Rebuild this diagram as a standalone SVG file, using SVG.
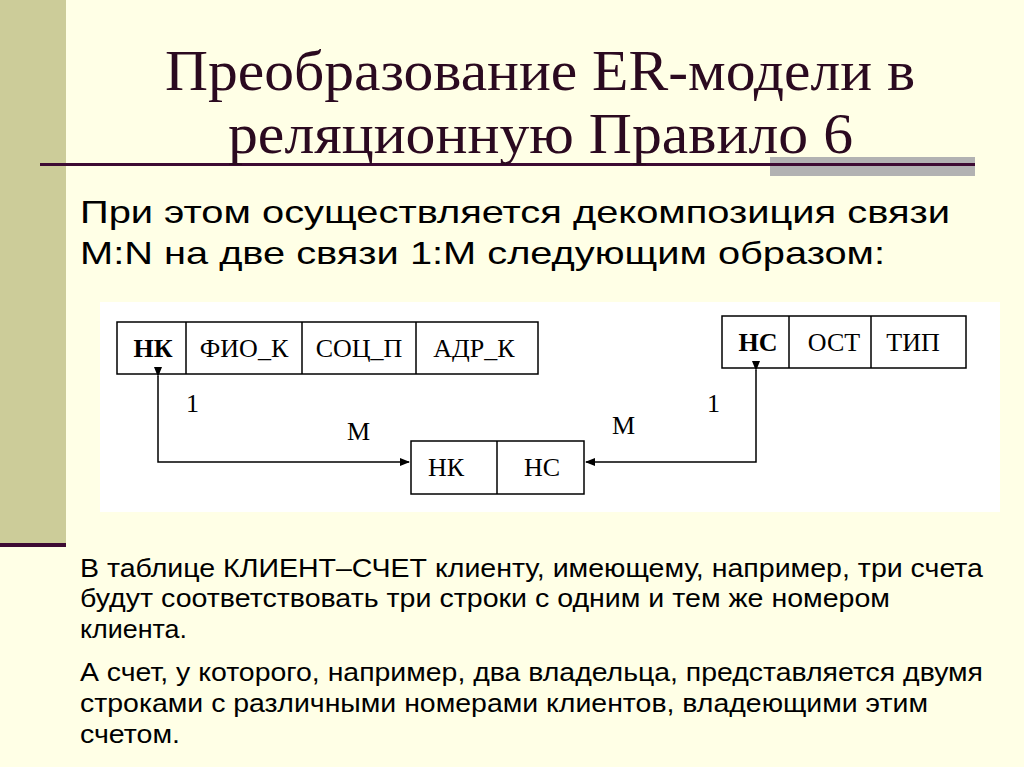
<svg xmlns="http://www.w3.org/2000/svg" width="1024" height="767" viewBox="0 0 1024 767">
<defs>
<style>
.t{font-family:"Liberation Serif",serif;fill:#2b0a20;font-size:56px}
.b{font-family:"Liberation Sans",Arial,sans-serif;fill:#000}
.d{font-family:"Liberation Serif",serif;fill:#000;font-size:26px}
.box{fill:#fff;stroke:#000;stroke-width:1.5}
.ln{fill:none;stroke:#000;stroke-width:1.5}
</style>
<marker id="a" markerWidth="10" markerHeight="8" refX="9" refY="4" orient="auto" markerUnits="userSpaceOnUse"><path d="M0,0L10,4L0,8z" fill="#000"/></marker>
</defs>
<rect width="1024" height="767" fill="#ffffe6"/>
<rect x="0" y="0" width="66" height="543" fill="#cccc99"/>
<rect x="0" y="543" width="66" height="4" fill="#3d0a33"/>
<rect x="770" y="157" width="205" height="19" fill="#b2b2b2"/>
<rect x="40" y="163" width="935" height="3" fill="#3d0a33"/>
<text class="t" x="165" y="90" textLength="750" lengthAdjust="spacingAndGlyphs">Преобразование ER-модели в</text>
<text class="t" x="228" y="153" textLength="625" lengthAdjust="spacingAndGlyphs">реляционную Правило 6</text>
<text class="b" x="80" y="223" font-size="32" textLength="870" lengthAdjust="spacingAndGlyphs">При этом осуществляется декомпозиция связи</text>
<text class="b" x="80" y="264" font-size="32" textLength="805" lengthAdjust="spacingAndGlyphs">M:N на две связи 1:M следующим образом:</text>
<rect x="100" y="302" width="900" height="210" fill="#fff"/>
<g id="client">
<rect class="box" x="117" y="322" width="421" height="52"/>
<path class="ln" d="M186,322V374M302,322V374M416,322V374"/>
<text class="d" x="153" y="357" text-anchor="middle" font-weight="bold">НК</text>
<text class="d" x="244" y="357" text-anchor="middle">ФИО_К</text>
<text class="d" x="359" y="357" text-anchor="middle">СОЦ_П</text>
<text class="d" x="474" y="357" text-anchor="middle">АДР_К</text>
</g>
<g id="account">
<rect class="box" x="722" y="316" width="244" height="52"/>
<path class="ln" d="M789,316V368M871,316V368"/>
<text class="d" x="758" y="351" text-anchor="middle" font-weight="bold">НС</text>
<text class="d" x="834" y="351" text-anchor="middle">ОСТ</text>
<text class="d" x="913" y="351" text-anchor="middle">ТИП</text>
</g>
<g id="link">
<rect class="box" x="411" y="441" width="173" height="53"/>
<path class="ln" d="M497,441V494"/>
<text class="d" x="446" y="476" text-anchor="middle">НК</text>
<text class="d" x="542" y="476" text-anchor="middle">НС</text>
</g>
<g id="connectors">
<path class="ln" d="M158,376V462H409" marker-start="url(#a)" marker-end="url(#a)"/>
<path class="ln" d="M756,370V462H586" marker-start="url(#a)" marker-end="url(#a)"/>
<text class="d" x="186" y="412">1</text>
<text class="d" x="347" y="440">M</text>
<text class="d" x="612" y="434">M</text>
<text class="d" x="707" y="412">1</text>
</g>
<g class="b" font-size="25">
<text x="80" y="577" textLength="903" lengthAdjust="spacingAndGlyphs">В таблице КЛИЕНТ–СЧЕТ клиенту, имеющему, например, три счета</text>
<text x="80" y="607" textLength="810" lengthAdjust="spacingAndGlyphs">будут соответствовать три строки с одним и тем же номером</text>
<text x="80" y="638" textLength="107" lengthAdjust="spacingAndGlyphs">клиента.</text>
<text x="80" y="681" textLength="903" lengthAdjust="spacingAndGlyphs">А счет, у которого, например, два владельца, представляется двумя</text>
<text x="80" y="712" textLength="848" lengthAdjust="spacingAndGlyphs">строками с различными номерами клиентов, владеющими этим</text>
<text x="80" y="743" textLength="100" lengthAdjust="spacingAndGlyphs">счетом.</text>
</g>
</svg>
